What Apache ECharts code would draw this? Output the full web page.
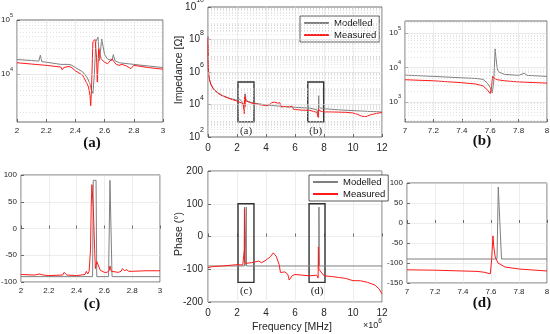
<!DOCTYPE html>
<html><head><meta charset="utf-8">
<script src="https://cdn.jsdelivr.net/npm/echarts@6/dist/echarts.min.js"></script>
<style>html,body{margin:0;padding:0;background:#fff}#c{width:550px;height:334px}</style>
</head><body><div id="c"></div><script>
// ---------- DATA (frequency in MHz, impedance in ohm, phase in degrees) ----------
// Main impedance plot
const freqMainModZ = [0.0005,0.002,0.01,0.03,0.06,0.1,0.2,0.35,0.5,0.75,1,1.5,2,2.16,2.4,2.5,2.52,2.54,2.555,2.565,2.58,2.6,2.7,3,3.5,4,5,6,7,7.5,7.6,7.617,7.635,7.65,7.7,8,9,10,11,12];
const zMainMod = [1.6e8,2.2e7,3.6e6,1.2e6,6e5,3.6e5,1.8e5,1.03e5,7.2e4,4.8e4,3.6e4,2.4e4,1.86e4,2.2e4,1.32e4,6.6e3,4.4e3,4e4,4.8e4,1.8e4,4.5e4,2.3e4,1.62e4,1.32e4,1.1e4,9.5e3,7.8e3,6.7e3,6e3,4.8e3,2.6e3,1.8e3,3.5e4,8.9e3,6.3e3,5.5e3,4.7e3,4.2e3,3.8e3,3.5e3];
const freqMainMeasZ = [0.0005,0.002,0.01,0.03,0.06,0.1,0.2,0.35,0.5,0.75,1,1.5,2,2.4,2.5,2.505,2.52,2.535,2.55,2.56,2.6,2.7,3,3.5,4,4.2,4.4,4.5,4.6,4.8,4.95,5.05,5.3,5.6,5.8,5.9,6.5,7,7.5,7.605,7.617,7.7,8,8.5,9,9.5,10,10.3,10.6,10.9,11.2,11.6,12];
const zMainMeas = [1.2e8,1.6e7,3.2e6,1.1e6,5.6e5,3.4e5,1.7e5,9.6e4,6.7e4,4.5e4,3.4e4,2.25e4,1.62e4,1.15e4,4e3,2.6e3,4e4,4.4e4,7.1e3,3e4,1.66e4,1.45e4,1.23e4,1e4,8.5e3,9e3,1.3e4,1.1e4,1.4e4,1.2e4,1.3e4,7e3,7.5e3,7e3,8e3,5e3,4.5e3,4.4e3,3.3e3,1.6e3,5.5e3,4.1e3,3.5e3,3.5e3,3.4e3,3.3e3,3e3,2.5e3,1.9e3,1.8e3,2.3e3,2.8e3,3.2e3];
// Detail (a)
const freqAMod = [2.0,2.1,2.15,2.16,2.17,2.2,2.3,2.35,2.36,2.37,2.4,2.45,2.48,2.5,2.51,2.52,2.53,2.54,2.555,2.565,2.58,2.6,2.62,2.65,2.66,2.67,2.7,2.8,2.9,3.0];
const zAMod = [18600,17800,17400,22400,17000,16600,15100,15100,16200,14800,13200,11000,8700,6600,5000,4400,10000,40000,48000,17800,44700,22900,19000,17800,22900,17800,16200,15100,14100,13200];
const freqAMeas = [2.0,2.2,2.3,2.31,2.32,2.35,2.36,2.37,2.4,2.45,2.48,2.49,2.5,2.505,2.51,2.52,2.535,2.545,2.55,2.56,2.57,2.58,2.6,2.62,2.65,2.68,2.7,2.72,2.75,2.78,2.8,2.9,3.0];
const zAMeas = [16200,14500,13500,12000,13200,13800,14500,13500,11500,9500,6600,5750,4000,2600,5000,40000,43700,20000,7100,30000,21400,18600,16600,15500,19000,15100,14500,15100,14100,12600,14500,13200,12300];
// Detail (b)
const freqBMod = [7.0,7.2,7.4,7.5,7.55,7.58,7.6,7.61,7.615,7.625,7.635,7.64,7.65,7.66,7.7,7.8,7.84,7.86,8.0];
const zBMod = [6000,5500,5000,4800,4500,3500,2600,2100,1800,4000,34700,20000,8900,7400,6300,5900,6800,5900,5500];
const freqBMeas = [7.0,7.2,7.4,7.5,7.55,7.58,7.6,7.605,7.61,7.617,7.63,7.65,7.7,7.8,8.0];
const zBMeas = [4400,4100,3600,3300,2900,2240,1740,1600,2800,5500,4800,4400,4100,3800,3500];
// Main phase plot
const freqMainModP = [0,2.515,2.52,2.54,2.545,2.63,2.64,2.655,7.643,7.652,7.675,12];
const phMainMod = [-90,-90,90,90,-90,-90,90,-90,-90,90,-90,-90];
const freqMainMeasP = [0,0.3,1,2,2.4,2.5,2.515,2.53,2.6,3,3.5,3.7,4,4.3,4.5,4.7,4.9,5.0,5.3,5.5,5.6,5.8,6,6.5,7,7.5,7.595,7.614,7.65,8,8.5,9,9.5,10,10.5,11,11.5,11.8,12];
const phMainMeas = [-95,-92,-90,-86,-87,-40,84,-75,-82,-80,-75,-80,-72,-62,-50,-60,-85,-110,-108,-115,-133,-120,-116,-118,-120,-118,-127,-32,-100,-120,-122,-125,-128,-135,-135,-140,-148,-160,-175];
// Detail (c)
const freqCMod = [2.0,2.515,2.52,2.54,2.545,2.63,2.64,2.655,3.0];
const phCMod = [-90,-90,90,90,-90,-90,90,-90,-90];
const freqCMeas = [2.0,2.1,2.13,2.16,2.2,2.3,2.31,2.33,2.4,2.46,2.47,2.48,2.49,2.5,2.505,2.51,2.515,2.52,2.53,2.535,2.54,2.545,2.555,2.57,2.6,2.62,2.635,2.64,2.65,2.7,2.72,2.73,2.745,2.76,2.775,2.8,2.9,3.0];
const phCMeas = [-86,-87,-85,-87,-88,-87,-82,-87,-88,-86,-80,-85,-80,-40,40,82,84,40,-40,-75,-77,-62,-68,-78,-82,-82,-78,-70,-80,-82,-80,-75,-79,-77,-80,-80,-79,-79];
// Detail (d)
const freqDMod = [7.0,7.643,7.652,7.675,8.0];
const phDMod = [-90,-90,90,-90,-90];
const freqDMeas = [7.0,7.2,7.4,7.5,7.55,7.595,7.605,7.614,7.62,7.63,7.65,7.7,7.8,8.0];
const phDMeas = [-117,-118,-120,-121,-123,-127,-90,-32,-60,-85,-100,-110,-115,-120];
// Tick labels (exponents of 10 for log axes)
const expMainZ = [2,4,6,8,10];
const expA = [4,5];
const expB = [3,4,5];
// Annotation boxes in the main plots
const boxNamesZ = ['(a)','(b)'];
const boxFreqZ = [[2.07,3.17],[6.88,7.98]];
const boxZ = [[850,2.4e5],[850,2.4e5]];
const boxNamesP = ['(c)','(d)'];
const boxFreqP = [[2.07,3.17],[6.97,8.07]];
const boxP = [[-140,100],[-140,100]];

// ---------- CHART ----------
const FONT = 'Liberation Sans, Arial, sans-serif';
const SERIF = 'Liberation Serif, DejaVu Serif, serif';
const GRAY = '#7f7f7f', RED = '#ff1a1a', AXC = '#4a4a4a', TXT = '#262626';
const LOG = v => Math.log10(v);
const pts = (xs, ys, tf) => xs.map((x, i) => [x, tf ? tf(ys[i]) : ys[i]]);

const grids = [
  {left:17, top:20, width:146, height:102},
  {left:208, top:7, width:174, height:130},
  {left:405, top:21, width:142, height:101},
  {left:21, top:175, width:139, height:107},
  {left:208, top:171, width:174, height:131},
  {left:407, top:183, width:140, height:100}
].map(g => Object.assign({show:true, borderColor:AXC, borderWidth:0.8, backgroundColor:'#fff', containLabel:false, outerBoundsMode:'none'}, g));

function xAx(gi, min, max, interval, fs, margin) {
  return {type:'value', gridIndex:gi, min, max, interval,
    axisLine:{show:false},
    axisTick:{show:true, inside:true, length:3, lineStyle:{color:AXC, width:0.8}},
    axisLabel:{fontSize:fs, color:TXT, margin, fontFamily:FONT, showMinLabel:true, showMaxLabel:true},
    splitLine:{show:true, lineStyle:{color:'#e0e0e0', width:0.6}}};
}
function yLin(gi, min, max, interval, fs, margin) {
  return {type:'value', gridIndex:gi, min, max, interval,
    axisLine:{show:false},
    axisTick:{show:true, inside:true, length:3, lineStyle:{color:AXC, width:0.8}},
    axisLabel:{fontSize:fs, color:TXT, margin, fontFamily:FONT, showMinLabel:true, showMaxLabel:true},
    splitLine:{show:true, lineStyle:{color:'#e0e0e0', width:0.6}}};
}
function yLog(gi, minV, maxV, exps, fs, sfs, margin) {
  return {type:'value', gridIndex:gi, min:LOG(minV), max:LOG(maxV),
    axisLine:{show:false},
    axisTick:{show:true, inside:true, length:3, customValues:exps, lineStyle:{color:AXC, width:0.8}},
    axisLabel:{customValues:exps, margin, color:TXT,
      formatter: v => '{b|10}{s|' + Math.round(v) + '}',
      rich:{
        b:{fontSize:fs, fontFamily:FONT, color:TXT, lineHeight:fs+2, verticalAlign:'middle'},
        s:{fontSize:sfs, fontFamily:FONT, color:TXT, lineHeight:sfs, verticalAlign:'middle', padding:[0,0,Math.round(fs*1.25),0]}
      }},
    splitLine:{show:false}};
}
function logGridLines(minV, maxV, majors) {
  const out = [];
  const lo = Math.floor(LOG(minV)), hi = Math.ceil(LOG(maxV));
  for (let n = lo; n <= hi; n++) {
    for (let k = 1; k <= 9; k++) {
      const v = k * Math.pow(10, n);
      if (v <= minV || v >= maxV) continue;
      const isMajor = (k === 1 && majors.indexOf(n) >= 0);
      out.push({yAxis: LOG(v), lineStyle: isMajor
        ? {color:'#d8d8d8', width:0.6, type:'solid'}
        : {color:'#c4c4c4', width:0.5, type:[1,2]}});
    }
  }
  return out;
}
function gridHelper(gi, x0, y0, gridLines) {
  return {type:'line', xAxisIndex:gi, yAxisIndex:gi, data:[[x0, y0]], symbol:'none',
    lineStyle:{opacity:0}, silent:true, z:1, animation:false,
    markLine:{silent:true, symbol:'none', label:{show:false}, animation:false, data:gridLines}};
}
function boxHelper(gi, x0, y0, areas) {
  return {type:'line', xAxisIndex:gi, yAxisIndex:gi, data:[[x0, y0]], symbol:'none',
    lineStyle:{opacity:0}, silent:true, z:2, animation:false,
    markArea:{silent:true, animation:false,
      itemStyle:{color:'rgba(0,0,0,0)', borderColor:'#333', borderWidth:1.4, borderType:'solid'},
      label:{show:true, position:'bottom', distance:3, fontFamily:SERIF, fontSize:11, color:'#222'},
      data:areas}};
}
function ln(name, gi, data, color, width) {
  return {type:'line', name, xAxisIndex:gi, yAxisIndex:gi, data, symbol:'none', showSymbol:false,
    lineStyle:{color, width}, itemStyle:{color}, z:3, animation:false, silent:true};
}

const areasZ = boxNamesZ.map((n, i) => [{name:n, xAxis:boxFreqZ[i][0], yAxis:LOG(boxZ[i][0])}, {xAxis:boxFreqZ[i][1], yAxis:LOG(boxZ[i][1])}]);
const areasP = boxNamesP.map((n, i) => [{name:n, xAxis:boxFreqP[i][0], yAxis:boxP[i][0]}, {xAxis:boxFreqP[i][1], yAxis:boxP[i][1]}]);

const legendBase = {data:['Modelled','Measured'], orient:'vertical', backgroundColor:'#fff', borderColor:'#333', borderWidth:0.8,
  padding:[2,3,2,3], itemGap:2, itemWidth:25, itemHeight:9, itemStyle:{opacity:0},
  textStyle:{fontSize:9.5, fontFamily:FONT, color:'#111'}, selectedMode:false};

const option = {
  backgroundColor:'#fff',
  animation:false,
  grid: grids,
  xAxis: [
    xAx(0, 2, 3, 0.2, 8, 5),
    xAx(1, 0, 12, 2, 10, 6),
    xAx(2, 7, 8, 0.2, 8, 5),
    xAx(3, 2, 3, 0.2, 8, 5),
    xAx(4, 0, 12, 2, 10, 6),
    xAx(5, 7, 8, 0.2, 8, 5)
  ],
  yAxis: [
    yLog(0, 1300, 1e5, expA, 8, 5.5, 4),
    yLog(1, 1e2, 1e10, expMainZ, 10, 7, 4),
    yLog(2, 260, 2.24e5, expB, 8, 5.5, 4),
    yLin(3, -100, 100, 50, 8, 4),
    yLin(4, -200, 200, 100, 10, 5),
    yLin(5, -150, 100, 50, 8, 4)
  ],
  legend: [
    Object.assign({left:300, top:16}, legendBase),
    Object.assign({left:309, top:175}, legendBase)
  ],
  series: [
    gridHelper(0, 2, LOG(1300), logGridLines(1300, 1e5, expA)),
    gridHelper(1, 0, 2, logGridLines(1e2, 1e10, expMainZ)),
    gridHelper(2, 7, LOG(260), logGridLines(260, 2.24e5, expB)),
    boxHelper(1, 0, 2, areasZ),
    boxHelper(4, 0, -200, areasP),
    ln('Modelled', 0, pts(freqAMod, zAMod, LOG), GRAY, 1),
    ln('Measured', 0, pts(freqAMeas, zAMeas, LOG), RED, 1),
    ln('Modelled', 1, pts(freqMainModZ, zMainMod, LOG), GRAY, 1),
    ln('Measured', 1, pts(freqMainMeasZ, zMainMeas, LOG), RED, 1),
    ln('Modelled', 2, pts(freqBMod, zBMod, LOG), GRAY, 1),
    ln('Measured', 2, pts(freqBMeas, zBMeas, LOG), RED, 1),
    ln('Modelled', 3, pts(freqCMod, phCMod), GRAY, 1),
    ln('Measured', 3, pts(freqCMeas, phCMeas), RED, 1),
    ln('Modelled', 4, pts(freqMainModP, phMainMod), GRAY, 1),
    ln('Measured', 4, pts(freqMainMeasP, phMainMeas), RED, 1),
    ln('Modelled', 5, pts(freqDMod, phDMod), GRAY, 1),
    ln('Measured', 5, pts(freqDMeas, phDMeas), RED, 1)
  ],
  graphic: [
    {type:'text', x:179, y:70, rotation:Math.PI/2, style:{text:'Impedance [Ω]', font:'10.5px ' + FONT, fill:TXT, textAlign:'center', textVerticalAlign:'middle'}},
    {type:'text', x:179, y:234, rotation:Math.PI/2, style:{text:'Phase (°)', font:'10.5px ' + FONT, fill:TXT, textAlign:'center', textVerticalAlign:'middle'}},
    {type:'text', x:292, y:327, style:{text:'Frequency [MHz]', font:'10.5px ' + FONT, fill:TXT, textAlign:'center', textVerticalAlign:'middle'}},
    {type:'text', x:363, y:326, style:{text:'×10{s|6}', font:'9px ' + FONT, fill:TXT, textAlign:'left', textVerticalAlign:'middle',
      rich:{s:{fontSize:6.5, fontFamily:FONT, fill:TXT, verticalAlign:'middle', padding:[0,0,10,0]}}}},
    {type:'text', x:92, y:143, style:{text:'(a)', font:'bold 15px ' + SERIF, fill:'#111', textAlign:'center', textVerticalAlign:'middle'}},
    {type:'text', x:482, y:141, style:{text:'(b)', font:'bold 15px ' + SERIF, fill:'#111', textAlign:'center', textVerticalAlign:'middle'}},
    {type:'text', x:92, y:304, style:{text:'(c)', font:'bold 15px ' + SERIF, fill:'#111', textAlign:'center', textVerticalAlign:'middle'}},
    {type:'text', x:482, y:303, style:{text:'(d)', font:'bold 15px ' + SERIF, fill:'#111', textAlign:'center', textVerticalAlign:'middle'}}
  ]
};
const chart = echarts.init(document.getElementById('c'), null, {renderer:'canvas'});
chart.setOption(option);
</script></body></html>
